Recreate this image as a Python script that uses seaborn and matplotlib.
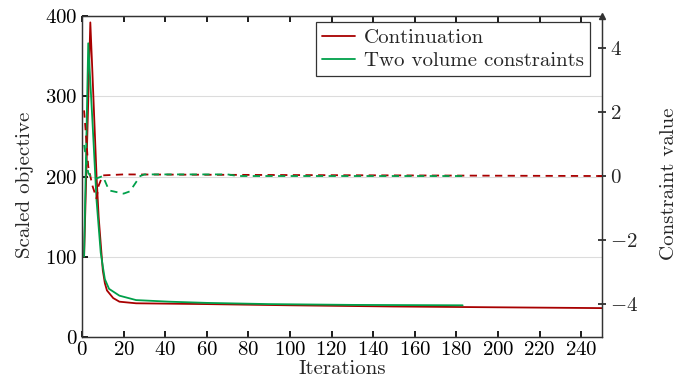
import matplotlib
matplotlib.use("Agg")
import matplotlib.pyplot as plt
import seaborn as sns
import pandas as pd
from matplotlib.lines import Line2D

# Objective (left axis)
cont_iter = [1, 4, 5, 7, 8, 10, 11, 12, 15, 18, 26, 60, 100, 150, 200, 250]
cont_obj = [100, 392, 330, 200, 150, 83, 67, 58, 48.5, 44, 42, 41, 39.5, 38, 37, 36]
two_iter = [1, 3, 5, 7, 9, 10, 11, 13, 18, 26, 42, 60, 90, 130, 183]
two_obj = [100, 366, 270, 170, 105, 88, 72, 60, 51.5, 46, 44, 42.5, 41, 40, 39.5]

# Constraint values (right axis)
cont_c_iter = [1, 2, 3, 4, 5, 7, 8, 10, 20, 100, 250]
cont_c = [2.05, 1.2, 0.3, 0.0, -0.3, -0.7, -0.3, 0.02, 0.05, 0.03, 0.0]
two_c_iter = [1, 3, 4, 6, 8, 10, 13, 20, 23, 28, 30, 70, 75, 183]
two_c = [0.97, 0.1, 0.0, -0.1, -0.05, 0.0, -0.45, -0.55, -0.48, 0.0, 0.05, 0.05, 0.0, 0.0]

series_names = ["Continuation", "Two volume constraints"]
x_ticks = list(range(0, 241, 20))
left_ticks = [0, 100, 200, 300, 400]
right_ticks = [-4, -2, 0, 2, 4]

RED = "#a80000"
GREEN = "#00a04a"
FS = 15

sns.set_theme(style="white")
plt.rcParams.update({
    "font.family": ["cmr10", "DejaVu Serif"],
    "mathtext.fontset": "cm",
    "axes.formatter.use_mathtext": True,
    "axes.unicode_minus": True,
    "font.size": FS,
})

fig = plt.figure(figsize=(6.9, 3.88), dpi=100)
ax = fig.add_axes([82/690, 1-337/388, (602-82)/690, (337-16)/388])

df_obj = pd.concat([
    pd.DataFrame({"it": cont_iter, "val": cont_obj, "s": series_names[0]}),
    pd.DataFrame({"it": two_iter, "val": two_obj, "s": series_names[1]}),
])
sns.lineplot(data=df_obj, x="it", y="val", hue="s", palette=[RED, GREEN],
             ax=ax, linewidth=1.3, estimator=None, sort=False, legend=False)

ax.set_xlim(0, 250)
ax.set_ylim(0, 400)
ax.set_xticks(x_ticks)
ax.set_yticks(left_ticks)
ax.grid(axis="y", color="#dcdcdc", linewidth=0.8)
ax.set_axisbelow(True)
ax.set_xlabel("Iterations", fontsize=FS, labelpad=1)
ax.set_ylabel("Scaled objective", fontsize=FS)
ax.yaxis.set_label_coords(-0.092, 0.473)
ax.tick_params(axis="both", direction="in", length=4, labelsize=FS, colors="black",
               top=True, bottom=True, left=True, right=False, pad=3)
for sp in ax.spines.values():
    sp.set_color("#333333")
    sp.set_linewidth(0.9)

ax2 = ax.twinx()
df_c = pd.concat([
    pd.DataFrame({"it": cont_c_iter, "val": cont_c, "s": series_names[0]}),
    pd.DataFrame({"it": two_c_iter, "val": two_c, "s": series_names[1]}),
])
sns.lineplot(data=df_c, x="it", y="val", hue="s", palette=[RED, GREEN],
             ax=ax2, linewidth=1.3, estimator=None, sort=False, legend=False)
for ln in ax2.get_lines():
    ln.set_dashes([4, 3])
ax2.set_ylim(-5.03, 5.0)
ax2.set_yticks(right_ticks)
ax2.set_ylabel("Constraint value", fontsize=FS, rotation=90)
ax2.yaxis.set_label_coords(1.111, 0.477)
ax2.tick_params(axis="y", direction="inout", length=6, labelsize=FS, pad=3)
ax2.set_xlim(0, 250)
ax2.set_xlabel("")
for sp in ax2.spines.values():
    sp.set_color("#333333")
    sp.set_linewidth(0.9)
ax2.plot([1], [1], marker="^", markersize=4, color="#333333",
         transform=ax2.transAxes, clip_on=False)

handles = [Line2D([], [], color=RED, lw=1.3), Line2D([], [], color=GREEN, lw=1.3)]
leg = ax2.legend(handles, series_names, loc="upper right", fontsize=FS,
                 bbox_to_anchor=((590-82)/520, (337-22)/321), borderaxespad=0,
                 frameon=True, fancybox=False, edgecolor="black",
                 borderpad=0.3, labelspacing=0.22, handlelength=1.6,
                 handletextpad=0.4)
leg.get_frame().set_linewidth(0.9)

fig.savefig("out.png", dpi=100)
